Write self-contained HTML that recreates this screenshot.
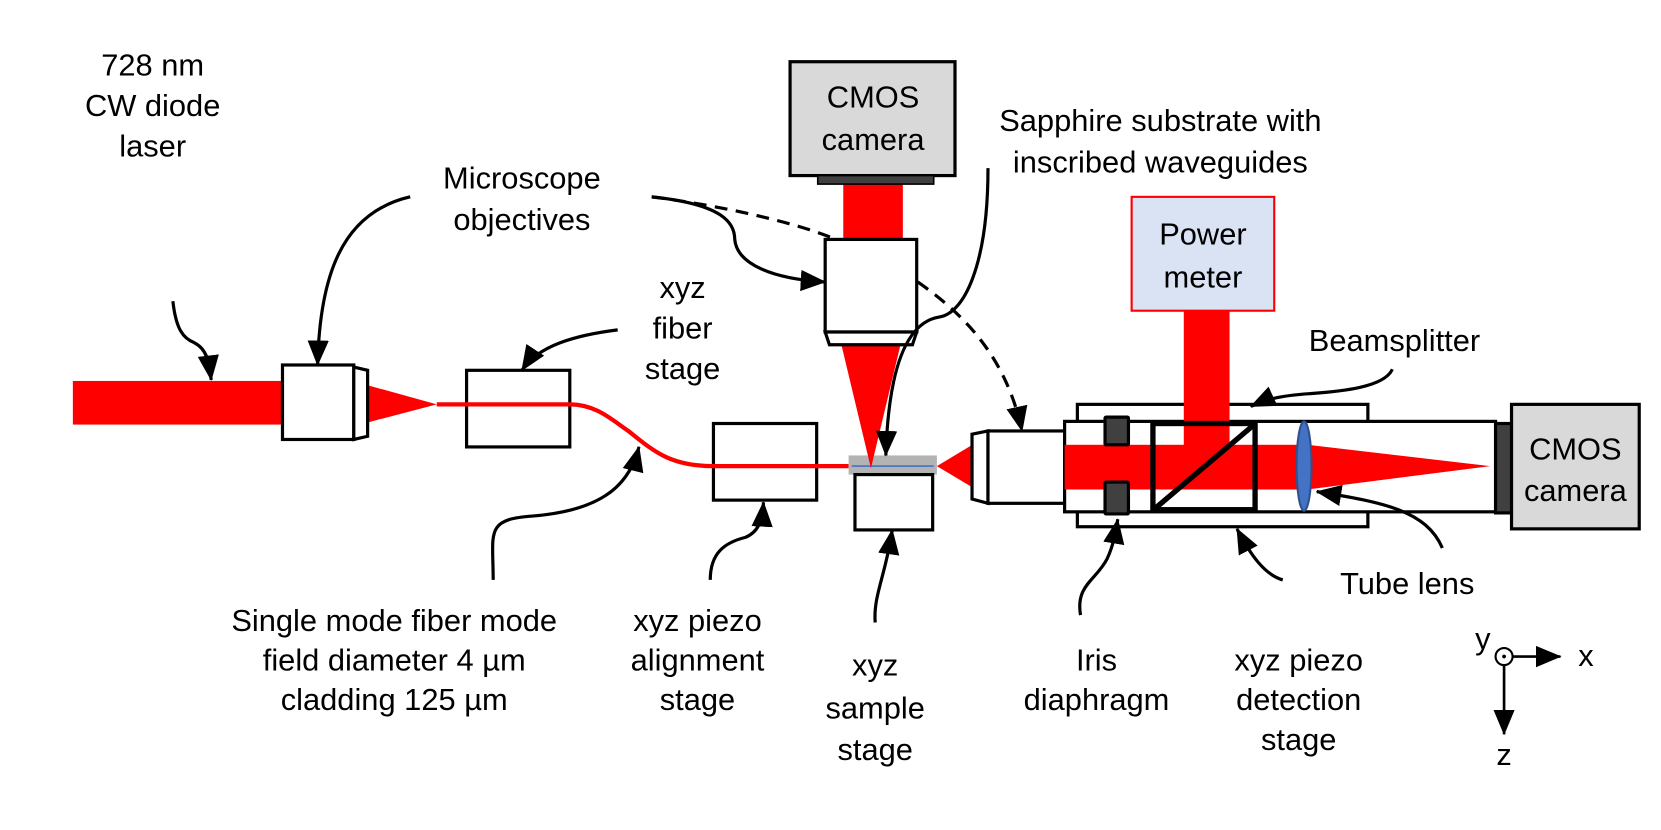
<!DOCTYPE html>
<html><head><meta charset="utf-8">
<style>
html,body{margin:0;padding:0;background:#fff;}
svg{display:block;}
text{font-family:"Liberation Sans",sans-serif;font-size:29px;fill:#000;text-anchor:middle;}
</style></head>
<body>
<svg width="1661" height="830" viewBox="0 0 1560 780" xmlns="http://www.w3.org/2000/svg">
<defs>
<marker id="ah" markerUnits="userSpaceOnUse" markerWidth="26" markerHeight="22" refX="23" refY="11" orient="auto">
<path d="M0,1 L24,11 L0,21 Z" fill="#000"/>
</marker>
</defs>
<g fill="none" stroke="#000" stroke-width="3">
<rect x="68" y="358" width="197" height="41" fill="#f00" stroke="none"/>
<polygon points="345,362 410,380 345,397" fill="#f00" stroke="none"/>
<rect x="265" y="343" width="67" height="70" fill="#fff"/>
<polygon points="332,345 345,348 345,410 332,413" fill="#fff"/>
<rect x="438" y="348" width="97" height="72" fill="#fff"/>
<rect x="670" y="398" width="97" height="72" fill="#fff"/>
<path d="M410,380 L535,380 C560,380 575,395 590,405 C615,425 630,438 670,438 L797,438" stroke="#f00" stroke-width="4"/>
<rect x="797" y="428" width="83" height="18" fill="#b3b3b3" stroke="none"/>
<line x1="800" y1="438" x2="877" y2="438" stroke="#4472c4" stroke-width="1.5"/>
<rect x="803" y="446" width="73" height="52" fill="#fff"/>
<rect x="792" y="172" width="56" height="55" fill="#f00" stroke="none"/>
<polygon points="790,323 846,323 818,440" fill="#f00" stroke="none"/>
<rect x="742" y="58" width="155" height="107" fill="#d9d9d9"/>
<rect x="768" y="165" width="109" height="8" fill="#404040" stroke="#000" stroke-width="1.5"/>
<rect x="775" y="225" width="86" height="87" fill="#fff"/>
<polygon points="775,312 861,312 857,324 779,324" fill="#fff"/>
<polygon points="920,414 880,438 920,462" fill="#f00" stroke="none"/>
<polygon points="913,408 928,405 928,473 913,469" fill="#fff"/>
<rect x="928" y="405" width="72" height="68" fill="#fff"/>
<rect x="1012" y="380" width="273" height="115" fill="#fff"/>
<rect x="1000" y="396" width="405" height="85" fill="#fff"/>
<rect x="1000" y="418" width="222" height="42" fill="#f00" stroke="none"/>
<rect x="1112" y="292" width="43" height="140" fill="#f00" stroke="none"/>
<polygon points="1228,418 1400,438 1228,460" fill="#f00" stroke="none"/>
<rect x="1038" y="392" width="22" height="26" fill="#404040" rx="1"/>
<rect x="1038" y="453" width="22" height="30" fill="#404040" rx="1"/>
<rect x="1083" y="398" width="96" height="81" stroke-width="5"/>
<line x1="1086" y1="477" x2="1177" y2="400" stroke-width="5"/>
<ellipse cx="1225" cy="438" rx="7" ry="42" fill="#4472c4" stroke="#2f528f" stroke-width="2"/>
<rect x="1405" y="398" width="15" height="84" fill="#404040"/>
<rect x="1420" y="380" width="120" height="117" fill="#d9d9d9"/>
<rect x="1063" y="185" width="134" height="107" fill="#dae3f3" stroke="#f00" stroke-width="2"/>
<path d="M162,283 C165,310 172,318 182,322 C194,328 196,340 198,357" marker-end="url(#ah)"/>
<path d="M385,185 C320,200 300,260 298,343" marker-end="url(#ah)"/>
<path d="M612,185 C680,192 690,210 690,225 C692,248 725,262 775,265" marker-end="url(#ah)"/>
<path d="M612,185 C690,195 755,212 785,225" stroke-dasharray="12,8"/>
<path d="M862,265 C905,295 945,335 960,405" stroke-dasharray="12,8" marker-end="url(#ah)"/>
<path d="M580,310 C540,315 505,325 490,348" marker-end="url(#ah)"/>
<path d="M463,545 C463,500 455,488 500,485 C560,480 590,460 600,420" marker-end="url(#ah)"/>
<path d="M667,545 C667,520 680,510 700,505 C712,500 716,490 717,472" marker-end="url(#ah)"/>
<path d="M822,585 C820,560 832,540 838,498" marker-end="url(#ah)"/>
<path d="M928,158 C928,250 905,295 882,298 C858,302 835,330 832,428" marker-end="url(#ah)"/>
<path d="M1308,347 C1300,365 1255,368 1230,370 C1200,372 1188,376 1175,382" marker-end="url(#ah)"/>
<path d="M1355,515 C1340,480 1300,472 1237,462" marker-end="url(#ah)"/>
<path d="M1015,578 C1010,550 1030,545 1040,525 C1046,512 1048,500 1050,488" marker-end="url(#ah)"/>
<path d="M1205,545 C1188,540 1175,522 1162,497" marker-end="url(#ah)"/>
<circle cx="1413" cy="617" r="8" fill="#fff" stroke-width="2"/>
<circle cx="1413" cy="617" r="1.8" fill="#000" stroke="none"/>
<path d="M1421,617 L1466,617" stroke-width="2.5" marker-end="url(#ah)"/>
<path d="M1413,625 L1413,690" stroke-width="2.5" marker-end="url(#ah)"/>
</g>
<text x="143" y="71">728 nm</text>
<text x="143" y="109">CW diode</text>
<text x="143" y="147">laser</text>
<text x="490" y="177">Microscope</text>
<text x="490" y="216">objectives</text>
<text x="641" y="280">xyz</text>
<text x="641" y="318">fiber</text>
<text x="641" y="356">stage</text>
<text x="820" y="101">CMOS</text>
<text x="820" y="141">camera</text>
<text x="1090" y="123">Sapphire substrate with</text>
<text x="1090" y="162">inscribed waveguides</text>
<text x="1130" y="230">Power</text>
<text x="1130" y="270">meter</text>
<text x="1310" y="330">Beamsplitter</text>
<text x="1480" y="432">CMOS</text>
<text x="1480" y="471">camera</text>
<text x="1322" y="558">Tube lens</text>
<text x="370" y="593">Single mode fiber mode</text>
<text x="370" y="630">field diameter 4 µm</text>
<text x="370" y="667">cladding 125 µm</text>
<text x="655" y="593">xyz piezo</text>
<text x="655" y="630">alignment</text>
<text x="655" y="667">stage</text>
<text x="822" y="635">xyz</text>
<text x="822" y="675">sample</text>
<text x="822" y="714">stage</text>
<text x="1030" y="630">Iris</text>
<text x="1030" y="667">diaphragm</text>
<text x="1220" y="630">xyz piezo</text>
<text x="1220" y="667">detection</text>
<text x="1220" y="705">stage</text>
<text x="1393" y="610">y</text>
<text x="1490" y="626">x</text>
<text x="1413" y="719">z</text>
</svg>
</body></html>
